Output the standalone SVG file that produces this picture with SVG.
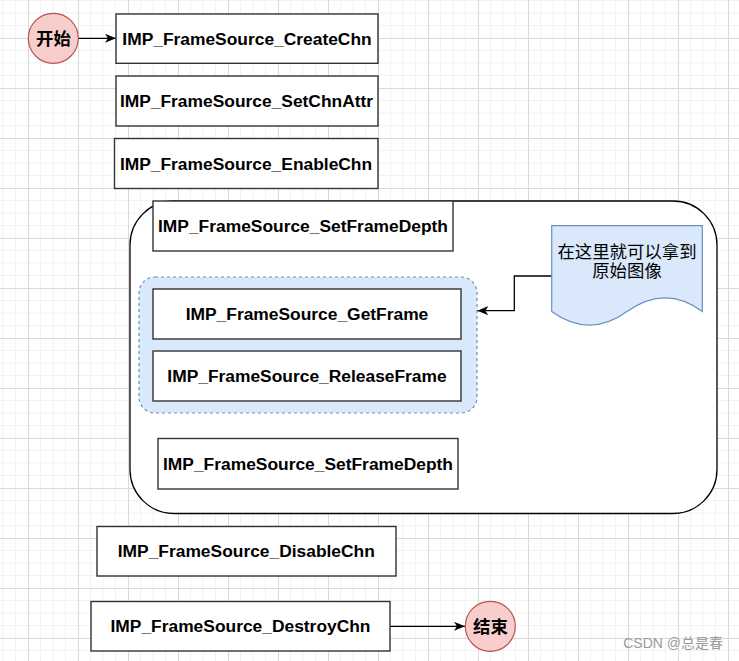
<svg xmlns="http://www.w3.org/2000/svg" width="739" height="661" viewBox="0 0 739 661">
  <style>
    .box { fill: #ffffff; stroke: #333333; stroke-width: 1.4; }
    .lbl { font-family: "Liberation Sans", Arial, "Noto Sans CJK SC", sans-serif; font-weight: bold; font-size: 17.4px; fill: #000000; text-anchor: middle; }
    .cjk { font-family: "Noto Sans CJK SC", sans-serif; font-size: 17.4px; fill: #000000; text-anchor: middle; }
    .cjkb { font-family: "Noto Sans CJK SC", sans-serif; font-weight: bold; font-size: 17.4px; fill: #000000; text-anchor: middle; }
    .term { fill: #f8cecc; stroke: #b85450; stroke-width: 1.2; }
    .conn { fill: none; stroke: #000000; stroke-width: 1.3; marker-end: url(#arr); }
  </style>
  <defs>
    <pattern id="grid" x="28" y="38" width="50" height="50" patternUnits="userSpaceOnUse">
      <path d="M12.5,0 V50 M25,0 V50 M37.5,0 V50 M0,12.5 H50 M0,25 H50 M0,37.5 H50" stroke="#f2f2f2" stroke-width="1" fill="none"/>
      <path d="M0.5,0 V50 M0,0.5 H50" stroke="#dadada" stroke-width="1" fill="none"/>
    </pattern>
    <marker id="arr" markerUnits="userSpaceOnUse" markerWidth="12" markerHeight="10" refX="11" refY="4.5" orient="auto">
      <path d="M0,0 L11,4.5 L0,9 L3,4.5 Z" fill="#000000"/>
    </marker>
  </defs>
  <rect x="0" y="0" width="739" height="661" fill="#ffffff"/>
  <rect x="0" y="0" width="739" height="661" fill="url(#grid)"/>

  <g id="container">
    <rect x="130" y="201" width="587" height="312.5" rx="44" ry="44" fill="#ffffff" stroke="#000000" stroke-width="1.3"/>
  </g>
  <g id="group-frames">
    <rect x="139" y="277" width="338" height="136" rx="16" ry="16" fill="#dae8fc" stroke="#6c8ebf" stroke-width="1.2" stroke-dasharray="3 3"/>
  </g>

  <g id="connectors">
    <path class="conn" d="M78.3,38.3 L116,38.3"/>
    <path class="conn" d="M551.7,276 L514.3,276 L514.3,310.7 L477.3,310.7"/>
    <path class="conn" d="M390,626.3 L465,626.3"/>
  </g>

  <g id="start">
    <circle class="term" cx="53.3" cy="38.3" r="25"/>
    <text class="cjkb" x="53.5" y="44.8">开始</text>
  </g>
  <g id="create">
    <rect class="box" x="116" y="14" width="262" height="49.3"/>
    <text class="lbl" x="247" y="44.6">IMP_FrameSource_CreateChn</text>
  </g>
  <g id="setattr">
    <rect class="box" x="116" y="76" width="262" height="50"/>
    <text class="lbl" x="246.5" y="107">IMP_FrameSource_SetChnAttr</text>
  </g>
  <g id="enable">
    <rect class="box" x="114.5" y="138.5" width="263.5" height="50"/>
    <text class="lbl" x="246" y="169.5">IMP_FrameSource_EnableChn</text>
  </g>
  <g id="setdepth1">
    <rect class="box" x="153" y="201" width="300" height="50"/>
    <text class="lbl" x="303" y="232">IMP_FrameSource_SetFrameDepth</text>
  </g>
  <g id="getframe">
    <rect class="box" x="153" y="289" width="308" height="50"/>
    <text class="lbl" x="307" y="320">IMP_FrameSource_GetFrame</text>
  </g>
  <g id="releaseframe">
    <rect class="box" x="153" y="351" width="308" height="50"/>
    <text class="lbl" x="307" y="382">IMP_FrameSource_ReleaseFrame</text>
  </g>
  <g id="setdepth2">
    <rect class="box" x="158" y="438.5" width="300" height="50.5"/>
    <text class="lbl" x="308" y="469.8">IMP_FrameSource_SetFrameDepth</text>
  </g>
  <g id="note">
    <path d="M551.7,225.7 L702.3,225.7 L702.3,311.55 Q665.6,284.3 627,311.55 Q589.35,338.8 551.7,311.55 Z" fill="#dae8fc" stroke="#6c8ebf" stroke-width="1.2"/>
    <text class="cjk" x="627" y="258">在这里就可以拿到</text>
    <text class="cjk" x="627" y="277">原始图像</text>
  </g>
  <g id="disable">
    <rect class="box" x="97" y="526.5" width="299" height="49.5"/>
    <text class="lbl" x="246.3" y="557.3">IMP_FrameSource_DisableChn</text>
  </g>
  <g id="destroy">
    <rect class="box" x="91" y="601.5" width="299" height="49.5"/>
    <text class="lbl" x="240.5" y="632.3">IMP_FrameSource_DestroyChn</text>
  </g>
  <g id="end">
    <circle class="term" cx="490.3" cy="626.3" r="25"/>
    <text class="cjkb" x="490.5" y="632.8">结束</text>
  </g>
  <text x="723" y="648" font-family="Liberation Sans, Arial, 'Noto Sans CJK SC', sans-serif" font-size="14" fill="#9a9a9a" text-anchor="end">CSDN @总是春</text>
</svg>
